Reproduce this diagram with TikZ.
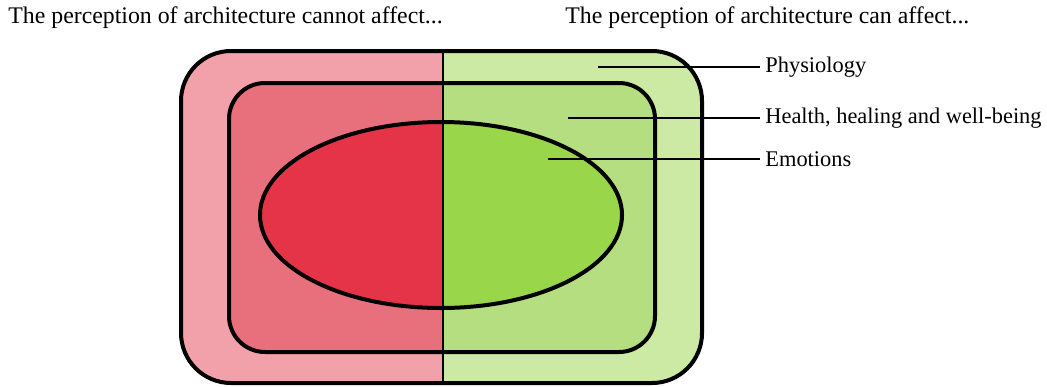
\documentclass[tikz,border=0pt]{standalone}
\usepackage{fontspec}
\setmainfont{Liberation Serif}
\usepackage{xcolor}
\usetikzlibrary{positioning}
\definecolor{noOuter}{RGB}{242,160,170}
\definecolor{noInner}{RGB}{232,112,124}
\definecolor{noCore}{RGB}{229,52,72}
\definecolor{yesOuter}{RGB}{205,234,164}
\definecolor{yesInner}{RGB}{180,222,128}
\definecolor{yesCore}{RGB}{154,214,74}
\tikzset{
  ttl/.style={anchor=west,inner sep=0pt,font=\fontsize{11.9}{14}\selectfont},
  lbl/.style={anchor=west,inner xsep=2.5pt,inner ysep=0pt,font=\fontsize{11.2}{13}\selectfont},
  ring/.style={draw=black,line width=2pt},
  lead/.style={draw=black,line width=1pt},
}

\begin{document}
\begin{tikzpicture}[x=0.5pt,y=-0.5pt]
  \useasboundingbox (0,0) rectangle (1047,386);
  % left half
  \begin{scope}
    \clip (0,0) rectangle (443,386);
    \fill[noOuter,rounded corners=25pt] (181,51) rectangle (702,383);
    \fill[noInner,rounded corners=18pt] (229,83) rectangle (655,352);
    \fill[noCore] (441,215) ellipse [x radius=181,y radius=93];
  \end{scope}
  % right half
  \begin{scope}
    \clip (443,0) rectangle (1047,386);
    \fill[yesOuter,rounded corners=25pt] (181,51) rectangle (702,383);
    \fill[yesInner,rounded corners=18pt] (229,83) rectangle (655,352);
    \fill[yesCore] (441,215) ellipse [x radius=181,y radius=93];
  \end{scope}
  \draw[ring,rounded corners=25pt] (181,51) rectangle (702,383);
  \draw[ring,rounded corners=18pt] (229,83) rectangle (655,352);
  \draw[ring] (441,215) ellipse [x radius=181,y radius=93];
  \coordinate (top) at (443,51);
  \coordinate (bot) at (443,383);
  \draw[line width=1pt] (top) -- (bot);
  % titles
  \node[ttl] (cannot) at (8,18) {The perception of architecture cannot affect...};
  \node[ttl] (can) at (565,18) {The perception of architecture can affect...};
  % labels
  \node[lbl] (phys) at (760,67) {Physiology};
  \node[lbl] (heal) at (760,118) {Health, healing and well-being};
  \node[lbl] (emo) at (760,159) {Emotions};
  \coordinate (physpt) at (598,67);
  \coordinate (healpt) at (568,118);
  \coordinate (emopt) at (548,159);
  \draw[lead] (physpt) -- (phys.west);
  \draw[lead] (healpt) -- (heal.west);
  \draw[lead] (emopt) -- (emo.west);
\end{tikzpicture}
\end{document}
